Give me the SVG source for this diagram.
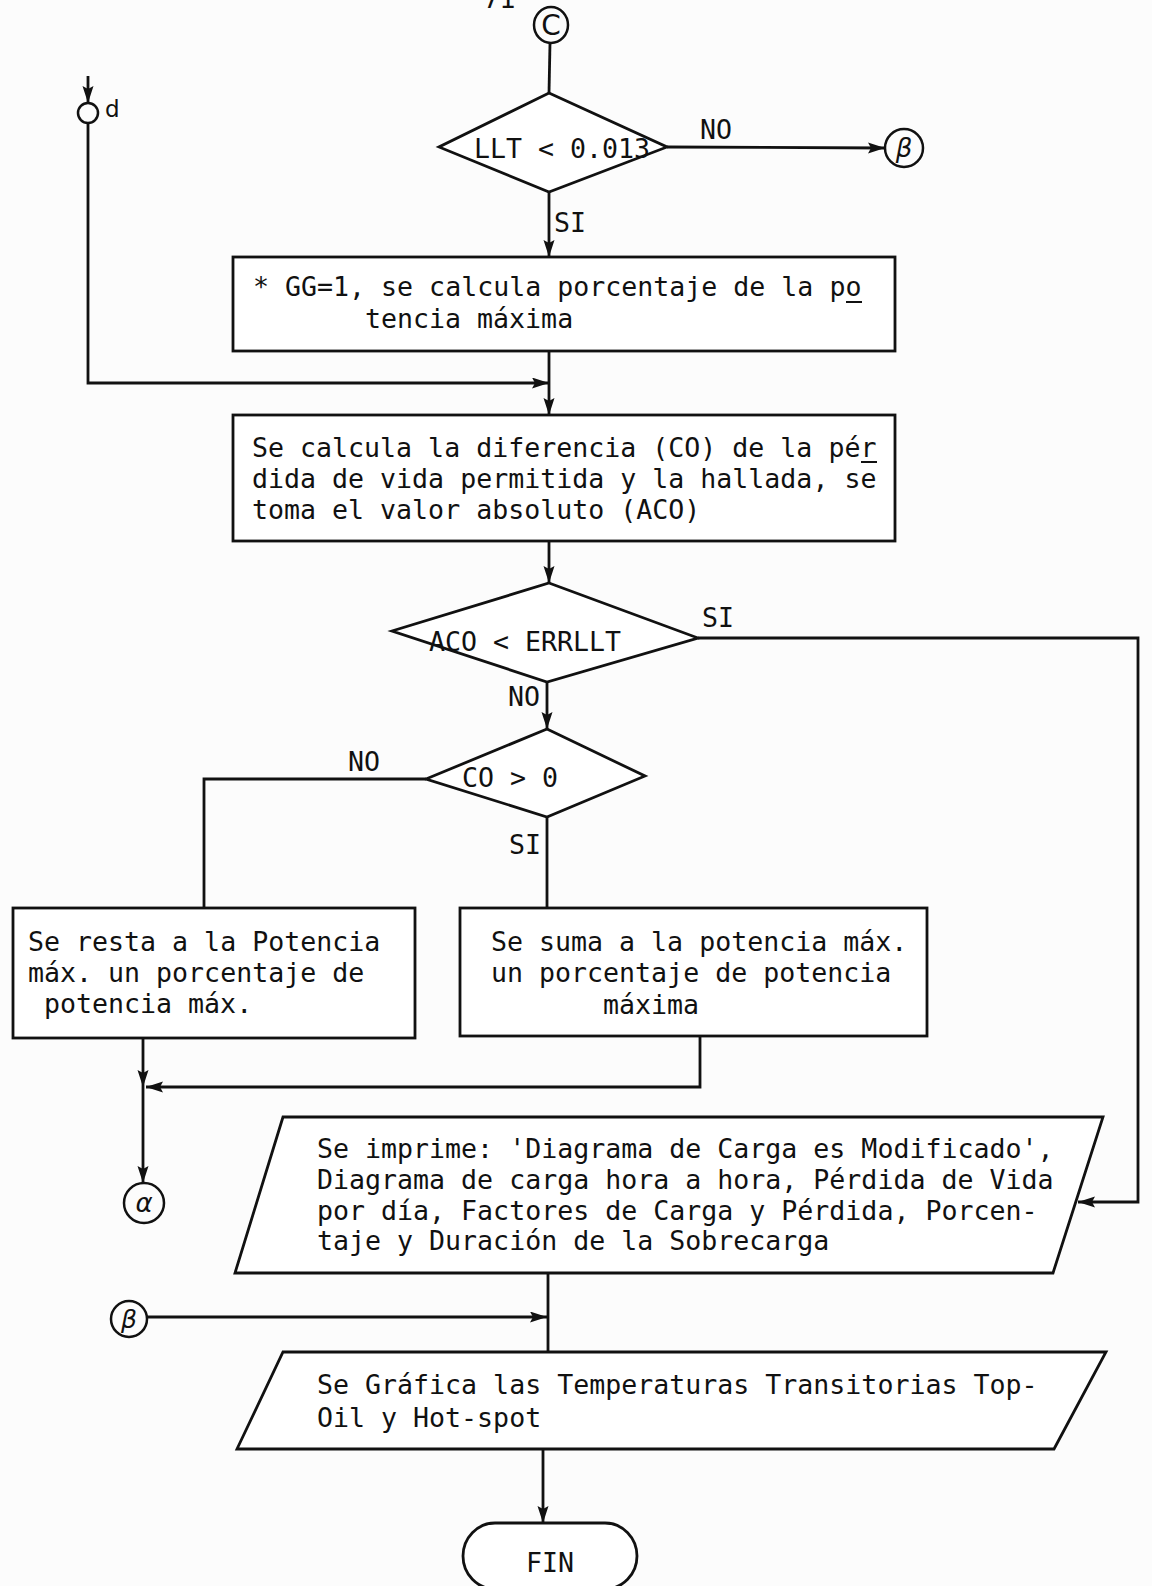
<svg xmlns="http://www.w3.org/2000/svg" width="1152" height="1586" viewBox="0 0 1152 1586">
<defs>
<marker id="ah" markerUnits="userSpaceOnUse" markerWidth="18" markerHeight="12" refX="17" refY="5.5" orient="auto">
<path d="M0,0 L17,5.5 L0,11 L3,5.5 z" fill="#111"/>
</marker>
<style>
.s{fill:none;stroke:#111;stroke-width:2.8;stroke-linejoin:miter}
.n{fill:#fff;stroke:#111;stroke-width:2.8}
.c{fill:none;stroke:#111;stroke-width:2.5}
.t{font-family:"DejaVu Sans Mono","Liberation Mono",monospace;font-size:26.6px;fill:#111}
.h{font-family:"DejaVu Sans","Liberation Sans",sans-serif;fill:#111}
</style>
</defs>
<rect width="1152" height="1586" fill="#fcfcfc"/>
<text class="h" x="483" y="8" font-size="26">71</text>

<g id="connectors" class="s">
<line x1="550" y1="43" x2="549" y2="93"/>
<line x1="667" y1="147" x2="885" y2="148" marker-end="url(#ah)"/>
<line x1="549" y1="192" x2="549" y2="257" marker-end="url(#ah)"/>
<line x1="88" y1="76" x2="88" y2="103" marker-end="url(#ah)"/>
<polyline points="88,123 88,383 549,383" marker-end="url(#ah)"/>
<line x1="549" y1="351" x2="549" y2="415" marker-end="url(#ah)"/>
<line x1="549" y1="541" x2="549" y2="583" marker-end="url(#ah)"/>
<line x1="547" y1="682" x2="547" y2="729" marker-end="url(#ah)"/>
<polyline points="698,638 1138,638 1138,1202 1078,1202" marker-end="url(#ah)"/>
<polyline points="426,779 204,779 204,908"/>
<line x1="547" y1="817" x2="547" y2="908"/>
<line x1="143" y1="1038" x2="143" y2="1087" marker-end="url(#ah)"/>
<line x1="143" y1="1087" x2="143" y2="1183" marker-end="url(#ah)"/>
<polyline points="700,1036 700,1087 146,1087" marker-end="url(#ah)"/>
<line x1="548" y1="1273" x2="548" y2="1352"/>
<line x1="147" y1="1317" x2="547" y2="1317" marker-end="url(#ah)"/>
<line x1="543" y1="1449" x2="543" y2="1523" marker-end="url(#ah)"/>
</g>

<g id="conn-c">
<ellipse class="c" cx="551" cy="25" rx="17" ry="18"/>
<text class="h" x="551" y="35" font-size="28" text-anchor="middle">C</text>
</g>

<g id="conn-d">
<circle class="c" cx="88" cy="113" r="10"/>
<text class="h" x="105" y="117" font-size="23">d</text>
</g>

<g id="dec-llt">
<polygon class="n" points="549,93 667,147 549,192 439,147"/>
<text class="t" x="474" y="158">LLT &lt; 0.013</text>
<text class="t" x="700" y="139">NO</text>
<text class="t" x="554" y="232">SI</text>
</g>

<g id="conn-beta-top">
<circle class="c" cx="904" cy="148" r="19"/>
<text class="h" x="904" y="157" font-size="26" font-style="italic" text-anchor="middle">β</text>
</g>

<g id="box-gg">
<rect class="n" x="233" y="257" width="662" height="94"/>
<text class="t" x="253" y="296">* GG=1, se calcula porcentaje de la po</text>
<line x1="846" y1="302" x2="862" y2="302" stroke="#111" stroke-width="2"/>
<text class="t" x="365" y="328">tencia máxima</text>
</g>

<g id="box-co">
<rect class="n" x="233" y="415" width="662" height="126"/>
<text class="t" x="252" y="457">Se calcula la diferencia (CO) de la pér</text>
<line x1="861" y1="462" x2="877" y2="462" stroke="#111" stroke-width="2"/>
<text class="t" x="252" y="488">dida de vida permitida y la hallada, se</text>
<text class="t" x="252" y="519">toma el valor absoluto (ACO)</text>
</g>

<g id="dec-aco">
<polygon class="n" points="549,583 698,638 547,682 392,631"/>
<text class="t" x="429" y="651">ACO &lt; ERRLLT</text>
<text class="t" x="702" y="627">SI</text>
<text class="t" x="508" y="706">NO</text>
</g>

<g id="dec-co">
<polygon class="n" points="547,729 645,776 547,817 426,779"/>
<text class="t" x="462" y="787">CO &gt; 0</text>
<text class="t" x="348" y="771">NO</text>
<text class="t" x="509" y="854">SI</text>
</g>

<g id="box-resta">
<rect class="n" x="13" y="908" width="402" height="130"/>
<text class="t" x="28" y="951">Se resta a la Potencia</text>
<text class="t" x="28" y="982">máx. un porcentaje de</text>
<text class="t" x="44" y="1013">potencia máx.</text>
</g>

<g id="box-suma">
<rect class="n" x="460" y="908" width="467" height="128"/>
<text class="t" x="491" y="951">Se suma a la potencia máx.</text>
<text class="t" x="491" y="982">un porcentaje de potencia</text>
<text class="t" x="603" y="1014">máxima</text>
</g>

<g id="conn-alpha">
<circle class="c" cx="144" cy="1203" r="20"/>
<text class="h" x="144" y="1212" font-size="26" font-style="italic" text-anchor="middle">α</text>
</g>

<g id="io-imprime">
<polygon class="n" points="283,1117 1103,1117 1053,1273 235,1273"/>
<text class="t" x="317" y="1158">Se imprime: 'Diagrama de Carga es Modificado',</text>
<text class="t" x="317" y="1189">Diagrama de carga hora a hora, Pérdida de Vida</text>
<text class="t" x="317" y="1220">por día, Factores de Carga y Pérdida, Porcen-</text>
<text class="t" x="317" y="1250">taje y Duración de la Sobrecarga</text>
</g>

<g id="conn-beta">
<circle class="c" cx="129" cy="1319" r="18"/>
<text class="h" x="129" y="1328" font-size="25" font-style="italic" text-anchor="middle">β</text>
</g>

<g id="io-grafica">
<polygon class="n" points="283,1352 1106,1352 1054,1449 237,1449"/>
<text class="t" x="317" y="1394">Se Gráfica las Temperaturas Transitorias Top-</text>
<text class="t" x="317" y="1427">Oil y Hot-spot</text>
</g>

<g id="term-fin">
<rect class="n" x="463" y="1523" width="174" height="66" rx="32" ry="33"/>
<text class="t" x="526" y="1572">FIN</text>
</g>
</svg>
